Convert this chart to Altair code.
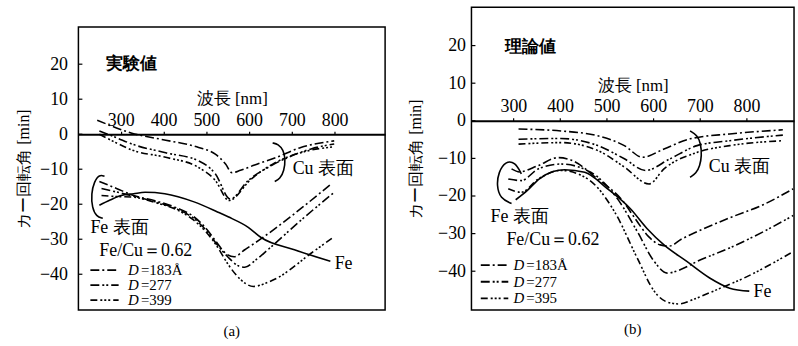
import altair as alt
import pandas as pd

# ---------------- Panel (a) 実験値 ----------------
A_XDOM = [201, 918]
A_YDOM = [-50.2, 30.6]
XTICKS = [300, 400, 500, 600, 700, 800]
YTICKS = [-40, -30, -20, -10, 0, 10, 20]

A_CU_183_X = [245, 290, 326, 396, 482, 521, 545, 560, 580, 613, 660, 721, 799]
A_CU_183_Y = [4, 1.8, 0.3, -1.5, -3.8, -5.7, -8.5, -11, -10.3, -8.8, -6.8, -3.8, -1.9]
A_CU_277_X = [250, 290, 326, 405, 482, 521, 556, 598, 644, 690, 745, 799]
A_CU_277_Y = [0.9, -1, -2.8, -5.3, -7.6, -11.3, -18.5, -13.2, -9.5, -6.7, -4.2, -2.8]
A_CU_399_X = [250, 290, 326, 405, 482, 521, 553, 605, 660, 729, 799]
A_CU_399_Y = [0, -2.5, -4.5, -6.6, -9.5, -13.2, -18.9, -12.8, -8.2, -5, -3.6]

A_FE_183_X = [250, 290, 330, 380, 430, 470, 500, 525, 545, 565, 590, 630, 706, 790]
A_FE_183_Y = [-13.5, -15.5, -17.5, -19, -21, -23.5, -27, -31, -34, -35, -33, -29.7, -22.7, -14.4]
A_FE_277_X = [255, 290, 330, 380, 430, 470, 500, 525, 550, 575, 590, 615, 644, 721, 799]
A_FE_277_Y = [-15.5, -16.5, -17.7, -19.3, -21.3, -24, -27.5, -31.5, -35, -37.6, -38, -36, -33, -24.6, -16.6]
A_FE_399_X = [255, 290, 330, 380, 430, 470, 500, 525, 550, 580, 610, 640, 667, 745, 799]
A_FE_399_Y = [-17.5, -17.8, -18, -19.5, -21.5, -24.5, -28, -32, -37, -41.5, -43.5, -42.5, -41, -34, -29.3]
A_FE_X = [250, 275, 301, 330, 357, 403, 473, 526, 551, 598, 628, 706, 790]
A_FE_Y = [-20.3, -18.8, -17.5, -17, -16.6, -17, -19.4, -22.2, -23.6, -26.6, -29.5, -33, -36.3]

A_FEBR_X = [262, 250, 238, 231, 233, 243, 258]
A_FEBR_Y = [-12, -11.5, -13.5, -17, -21, -23.5, -24]
A_CUBR_X = [655, 668, 680, 685, 682, 672, 660]
A_CUBR_Y = [-2.5, -2.8, -4.5, -7, -10.5, -12.8, -13.5]

A_TEXT = ["実験値", "Cu 表面", "Fe 表面", "Fe/Cu＝0.62", "Fe"]
A_TEXT_X = [266, 702, 229, 250, 800]
A_TEXT_Y = [20, -9.9, -26.8, -33.3, -37.1]
A_LEG_LABELS = ["=183Å", "=277", "=399"]
A_LEG_Y = [-38.8, -43.1, -47.4]
A_LEG_X = [229, 295]
A_LEG_TX = 317

# ---------------- Panel (b) 理論値 ----------------
B_XDOM = [210, 902]
B_YDOM = [-50.3, 30.2]

B_CU_183_X = [311, 402, 481, 538, 577, 623, 679, 764, 878]
B_CU_183_Y = [-2.2, -2.7, -4, -6.6, -9.7, -7.5, -4.8, -3.5, -2.4]
B_CU_277_X = [311, 402, 481, 538, 583, 636, 694, 764, 878]
B_CU_277_Y = [-4.9, -4.7, -6.6, -10.1, -13.2, -10.1, -6.6, -5.3, -3.8]
B_CU_395_X = [311, 402, 481, 538, 591, 623, 694, 764, 878]
B_CU_395_Y = [-6.2, -5.8, -7.9, -12.3, -16.8, -12.8, -8.4, -6.6, -5.3]

B_FE_183_X = [296, 313, 353, 396, 423, 481, 536, 560, 590, 615, 635, 660, 694, 764, 836, 900]
B_FE_183_Y = [-12.8, -13.6, -11.9, -9.8, -10.4, -15.5, -21.5, -25.8, -30.8, -33, -33.3, -31.5, -29.5, -25.8, -22.3, -18.1]
B_FE_277_X = [289, 317, 353, 402, 466, 523, 566, 602, 630, 660, 694, 764, 836, 900]
B_FE_277_Y = [-15.5, -15.9, -12.8, -11.5, -13.7, -20.7, -29.5, -37.4, -40.5, -39.5, -37.4, -33.8, -29.5, -25.2]
B_FE_395_X = [289, 317, 353, 402, 460, 517, 566, 602, 630, 655, 690, 729, 800, 900]
B_FE_395_Y = [-18.1, -19, -15.5, -13.2, -15.5, -24.2, -36.6, -45.3, -48.2, -48.7, -47.3, -45.3, -41.5, -34.8]
B_FE_X = [305, 330, 355, 385, 410, 453, 502, 551, 587, 623, 672, 721, 764, 806]
B_FE_Y = [-21, -18.5, -15.5, -13.5, -13, -13.7, -18.1, -23.4, -28.7, -33, -37.4, -41.8, -44.5, -45.3]

B_FEBR_X = [317, 304, 283, 268, 264, 272, 296]
B_FEBR_Y = [-14.1, -11, -10.7, -13.7, -17.2, -20.7, -22]
B_CUBR_X = [679, 694, 702, 704, 700, 692, 679]
B_CUBR_Y = [-2.7, -3.8, -6, -9.3, -12, -14, -15]

B_TEXT = ["理論値", "Cu 表面", "Fe 表面", "Fe/Cu＝0.62", "Fe"]
B_TEXT_X = [283, 719, 251, 285, 815]
B_TEXT_Y = [19.7, -12.3, -25.5, -31.8, -45.5]
B_LEG_LABELS = ["=183Å", "=277", "=395"]
B_LEG_Y = [-38.4, -42.8, -47.2]
B_LEG_X = [230, 289]
B_LEG_TX = 300

SERIF = "Liberation Serif"
DASH_183 = [9, 3, 2, 3]
DASH_277 = [9, 3, 2, 2, 2, 3]
DASH_399 = [7, 3, 2, 2, 2, 2, 2, 3]


def df(xs, ys):
    return pd.DataFrame({"x": xs, "y": ys, "i": list(range(len(xs)))})


def panel(xdom, ydom, w, h, curves, brackets, texts, legend, label, ylabpad, ytitlepad, toff):
    off = -h * ydom[1] / (ydom[1] - ydom[0])
    xenc = alt.X("x:Q", scale=alt.Scale(domain=xdom, nice=False, zero=False),
                 axis=alt.Axis(orient="top", offset=off, values=XTICKS, title="波長 [nm]",
                               grid=False, tickSize=3, tickWidth=1.2, tickColor="black",
                               domainWidth=2, domainColor="black",
                               labelFont=SERIF, labelFontSize=18, labelColor="black",
                               labelPadding=2, titleFont=SERIF, titleFontSize=17,
                               titleFontWeight="normal", titleColor="black", titlePadding=4))
    yenc = alt.Y("y:Q", scale=alt.Scale(domain=ydom, nice=False, zero=False),
                 axis=alt.Axis(values=YTICKS, title="カー回転角 [min]", grid=False, ticks=False,
                               domain=False, labelFont=SERIF, labelFontSize=18,
                               labelColor="black", labelPadding=ylabpad, titleFont=SERIF,
                               titleFontSize=16, titleFontWeight="normal", titleColor="black",
                               titlePadding=ytitlepad))
    layers = []
    # inward y ticks
    layers.append(alt.Chart(pd.DataFrame({"y": YTICKS})).mark_rule(color="black", strokeWidth=1.2)
                  .encode(y=yenc, x=alt.value(0), x2=alt.value(4)))
    for xs, ys, dash in curves:
        kw = {} if dash is None else {"strokeDash": dash}
        layers.append(alt.Chart(df(xs, ys)).mark_line(color="black", strokeWidth=1.6,
                                                       interpolate="monotone", **kw)
                      .encode(x=xenc, y=yenc, order="i:Q"))
    for xs, ys in brackets:
        layers.append(alt.Chart(df(xs, ys)).mark_line(color="black", strokeWidth=1.6,
                                                       interpolate="basis")
                      .encode(x=xenc, y=yenc, order="i:Q"))
    tdf = pd.DataFrame({"x": texts[1], "y": texts[2], "t": texts[0]})
    layers.append(alt.Chart(tdf.iloc[[0]]).mark_text(align="left", baseline="middle", font=SERIF,
                                                      fontSize=17, fontWeight="bold", color="black")
                  .encode(x=xenc, y=yenc, text="t:N"))
    layers.append(alt.Chart(tdf.iloc[1:]).mark_text(align="left", baseline="middle", font=SERIF,
                                                     fontSize=18, color="black")
                  .encode(x=xenc, y=yenc, text="t:N"))
    labels, ly, lx, ltx = legend
    for lab, yv, dash in zip(labels, ly, [DASH_183, DASH_277, DASH_399]):
        layers.append(alt.Chart(pd.DataFrame({"x": lx, "y": [yv, yv], "i": [0, 1]}))
                      .mark_line(color="black", strokeWidth=1.8, strokeDash=dash)
                      .encode(x=xenc, y=yenc, order="i:Q"))
    ldf = pd.DataFrame({"x": [ltx] * len(labels), "y": ly, "t": labels, "d": ["D"] * len(labels)})
    layers.append(alt.Chart(ldf).mark_text(align="left", baseline="middle", font=SERIF,
                                           fontSize=15, fontStyle="italic", color="black")
                  .encode(x=xenc, y=yenc, text="d:N"))
    layers.append(alt.Chart(ldf).mark_text(align="left", baseline="middle", font=SERIF,
                                           fontSize=15, color="black", dx=13)
                  .encode(x=xenc, y=yenc, text="t:N"))
    return alt.layer(*layers).properties(
        width=w, height=h,
        title=alt.TitleParams(label, orient="bottom", font=SERIF, fontSize=15,
                              fontWeight="normal", color="black", offset=toff))


chart_a = panel(A_XDOM, A_YDOM, 309, 285,
                [(A_CU_183_X, A_CU_183_Y, DASH_183), (A_CU_277_X, A_CU_277_Y, DASH_277),
                 (A_CU_399_X, A_CU_399_Y, DASH_399), (A_FE_183_X, A_FE_183_Y, DASH_183),
                 (A_FE_277_X, A_FE_277_Y, DASH_277), (A_FE_399_X, A_FE_399_Y, DASH_399),
                 (A_FE_X, A_FE_Y, None)],
                [(A_FEBR_X, A_FEBR_Y), (A_CUBR_X, A_CUBR_Y)],
                (A_TEXT, A_TEXT_X, A_TEXT_Y),
                (A_LEG_LABELS, A_LEG_Y, A_LEG_X, A_LEG_TX), "(a)", 11, 8, 14)

chart_b = panel(B_XDOM, B_YDOM, 325, 305,
                [(B_CU_183_X, B_CU_183_Y, DASH_183), (B_CU_277_X, B_CU_277_Y, DASH_277),
                 (B_CU_395_X, B_CU_395_Y, DASH_399), (B_FE_183_X, B_FE_183_Y, DASH_183),
                 (B_FE_277_X, B_FE_277_Y, DASH_277), (B_FE_395_X, B_FE_395_Y, DASH_399),
                 (B_FE_X, B_FE_Y, None)],
                [(B_FEBR_X, B_FEBR_Y), (B_CUBR_X, B_CUBR_Y)],
                (B_TEXT, B_TEXT_X, B_TEXT_Y),
                (B_LEG_LABELS, B_LEG_Y, B_LEG_X, B_LEG_TX), "(b)", 6, 14, 12)

spacer = alt.Chart(pd.DataFrame({"v": [0]})).mark_point(opacity=0).properties(
    width=10, height=18, view=alt.ViewBackground(stroke="transparent"))

col_a = alt.vconcat(spacer, chart_a, spacing=0)

chart = alt.hconcat(col_a, chart_b, spacing=21).properties(
    padding={"left": 15, "top": 5, "right": 0, "bottom": 0},
    background="white",
).configure_view(stroke="black", strokeWidth=1.5)

chart.save("out.html", embed_options={"renderer": "svg", "actions": False})
